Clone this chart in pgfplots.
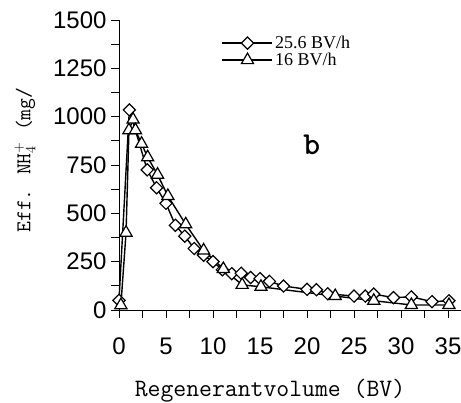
\documentclass[border=0pt]{standalone}
\usepackage{fontspec}
\setmainfont{Liberation Sans}
\newfontfamily\tnr{Liberation Serif}
\usepackage{pgfplots}
\pgfplotsset{compat=1.18}
\pgfplotsset{mylegend/.style={legend image code/.code={\draw[mark repeat=2, mark phase=2, ##1] plot coordinates {(0pt,0pt)(25pt,0pt)(50pt,0pt)};}}}
\begin{document}
\begin{tikzpicture}
\begin{axis}[
  name=ax,
  scale only axis,
  width=342pt, height=290pt,
  xmin=0, xmax=36.38, ymin=0, ymax=1500,
  axis x line=bottom, axis y line=left,
  axis line style={line width=0.8pt, -},
  xtick={0,5,...,35}, minor xtick={2.5,7.5,...,32.5},
  ytick={0,250,...,1500}, minor ytick={125,375,...,1375},
  tick align=outside,
  major tick length=8pt, minor tick length=8pt,
  tick style={line width=0.8pt, black},
  /pgf/number format/assume math mode=true,
  /pgf/number format/1000 sep={},
  tick label style={font=\fontsize{24}{28}\selectfont},
  xticklabel style={anchor=base, yshift=-37pt},
  yticklabel style={anchor=east, xshift=-1pt},
  clip=false,
  xlabel={Regenerantvolume (BV)},
  ylabel={Eff. NH$_4^+$ (mg/},
  every axis x label/.style={at={(axis description cs:0.4415,-0.3)}, anchor=base, font=\ttfamily\fontsize{25}{30}\selectfont},
  every axis y label/.style={at={(axis description cs:-0.2749,0.517)}, anchor=center, rotate=90, font=\ttfamily\fontsize{21}{24}\selectfont},
  legend style={draw=none, fill=none, at={(axis description cs:0.30,0.952)}, anchor=north west, font=\tnr\fontsize{18}{20}\selectfont, row sep=-1pt, inner sep=0pt},
  legend cell align=left,
]
\addplot[black, line width=1.4pt, mark=square*, mark size=4.3pt, mark options={rotate=45, fill=white, line width=1.2pt, solid}, mylegend] coordinates {
(0,50)(1.1,1035)(3,725)(4,632)(5,552)(6,438)(7,382)(8,318)(9,283)(10,250)(11,208)(12,188)(13,190)(14,168)(15,162)(16,148)(17.5,124)(20,107)(21,105)(22.2,84)(25,72)(26.2,72)(27.1,82)(29.2,64)(31.1,68)(33.3,43)(35.1,48)
};
\addlegendentry{25.6 BV/h}
\addplot[black, line width=1.4pt, mark=triangle*, mark size=7pt, mark options={fill=white, line width=1.2pt, solid}, mylegend] coordinates {
(0.2,25)(0.75,400)(1.06,930)(1.5,985)(1.75,930)(2.4,860)(3.05,790)(4.1,700)(5.2,590)(7.1,443)(9,308)(11.1,212)(13.1,130)(15.1,120)(23,72)(27.1,48)(31.1,26)(35.1,26)
};
\addlegendentry{16 BV/h}
\node at (axis cs:20.5,853) {\ttfamily\bfseries\fontsize{32}{34}\selectfont b};
\coordinate (BL) at (rel axis cs:0,0);
\end{axis}
\pgfresetboundingbox
\path ([shift={(-119pt,-93pt)}]BL) rectangle ([shift={(342pt,310pt)}]BL);
\end{tikzpicture}
\end{document}
